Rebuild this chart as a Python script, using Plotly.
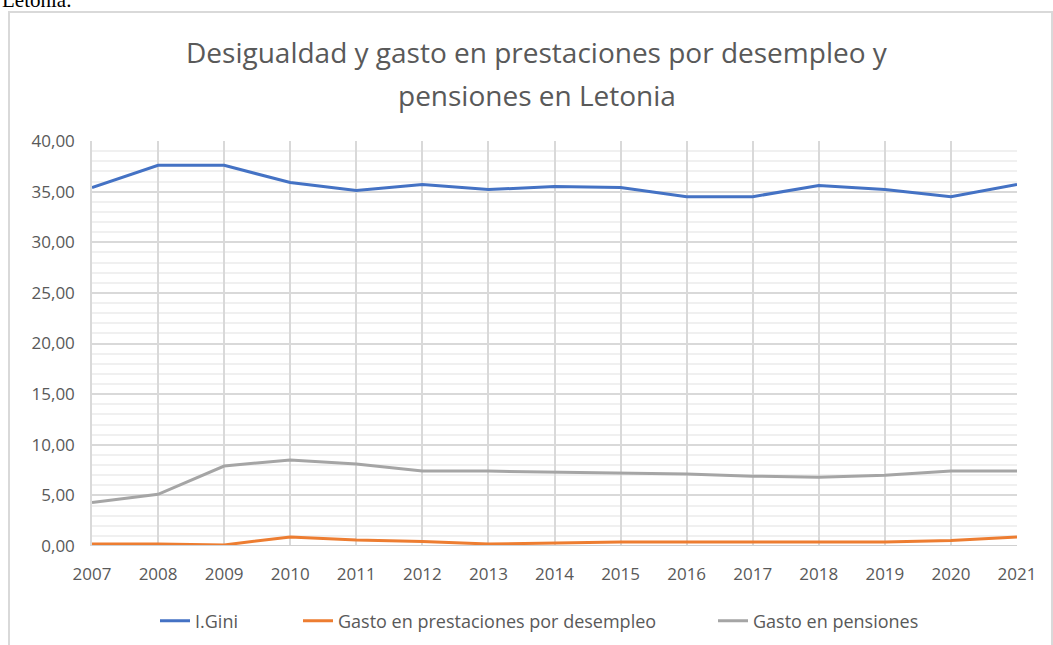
import plotly.graph_objects as go

# Series (Letonia, 2007-2021)
years = [2007, 2008, 2009, 2010, 2011, 2012, 2013, 2014, 2015, 2016, 2017, 2018, 2019, 2020, 2021]
gini = [35.4, 37.6, 37.6, 35.9, 35.1, 35.7, 35.2, 35.5, 35.4, 34.5, 34.5, 35.6, 35.2, 34.5, 35.7]
desempleo = [0.2, 0.2, 0.1, 0.9, 0.6, 0.45, 0.2, 0.3, 0.4, 0.4, 0.4, 0.4, 0.4, 0.55, 0.9]
pensiones = [4.3, 5.1, 7.9, 8.5, 8.1, 7.4, 7.4, 7.3, 7.2, 7.1, 6.9, 6.8, 7.0, 7.4, 7.4]

y_ticks = [0, 5, 10, 15, 20, 25, 30, 35, 40]
title_lines = ["Desigualdad y gasto en prestaciones por desempleo y", "pensiones en Letonia"]

W, H = 1053, 645
L, R, T, B = 92, 36, 141, 99
PW, PH = W - L - R, H - T - B


def px_x(p):
    return (p - L) / PW


def px_y(p):
    return (H - B - p) / PH


FONT = "Open Sans"
TXT = "#595959"

fig = go.Figure()
fig.add_trace(go.Scatter(x=years, y=gini, mode="lines", name="I.Gini",
                         line=dict(color="#4472C4", width=3), legend="legend"))
fig.add_trace(go.Scatter(x=years, y=desempleo, mode="lines",
                         name="Gasto en prestaciones por desempleo",
                         line=dict(color="#ED7D31", width=3), legend="legend2"))
fig.add_trace(go.Scatter(x=years, y=pensiones, mode="lines", name="Gasto en pensiones",
                         line=dict(color="#A5A5A5", width=3), legend="legend3"))

leg_common = dict(orientation="h", yanchor="middle", y=px_y(621), xanchor="left",
                  font=dict(family=FONT, size=18, color=TXT), bgcolor="rgba(0,0,0,0)",
                  itemwidth=30)

fig.update_layout(
    width=W, height=H,
    margin=dict(l=L, r=R, t=T, b=B, autoexpand=False),
    paper_bgcolor="white", plot_bgcolor="white",
    separators=",.",
    xaxis=dict(range=[2007, 2021], tickmode="array", tickvals=years,
               ticktext=[str(y) for y in years], showgrid=True, gridcolor="#d9d9d9",
               gridwidth=1.5, zeroline=False, showline=False, ticks="",
               tickfont=dict(family=FONT, size=17, color=TXT), ticklabelstandoff=16),
    yaxis=dict(range=[0, 40], tickmode="array", tickvals=y_ticks, tickformat=".2f",
               showgrid=True, gridcolor="#d9d9d9", gridwidth=1.5, zeroline=False,
               showline=True, linecolor="#d9d9d9", linewidth=1.5, mirror=False,
               ticks="", tickfont=dict(family=FONT, size=17, color=TXT),
               ticklabelstandoff=12,
               minor=dict(dtick=1, showgrid=True, gridcolor="#f0f0f0", gridwidth=1.5)),
    legend=dict(leg_common, x=px_x(155)),
    legend2=dict(leg_common, x=px_x(298)),
    legend3=dict(leg_common, x=px_x(713)),
    showlegend=True,
)

# chart title, two centred lines
for line_text, y_px in zip(title_lines, [52, 95]):
    fig.add_annotation(text=line_text, xref="paper", yref="paper", x=px_x(537), y=px_y(y_px),
                       xanchor="center", yanchor="middle", showarrow=False,
                       font=dict(family=FONT, size=28, color=TXT))

# axis line along zero
fig.add_shape(type="line", xref="paper", yref="y", x0=0, x1=1, y0=0, y1=0,
              line=dict(color="#d0d0d0", width=2), layer="above")

# chart frame
fig.add_shape(type="rect", xref="paper", yref="paper",
              x0=px_x(9), x1=px_x(1052), y0=px_y(680), y1=px_y(12),
              line=dict(color="#d9d9d9", width=2), fillcolor="rgba(0,0,0,0)")

# preceding line of document text
fig.add_annotation(text="Letonia.", xref="paper", yref="paper", x=px_x(0), y=px_y(14),
                   xanchor="left", yanchor="bottom", showarrow=False,
                   font=dict(family="Liberation Serif", size=21, color="black"))

fig.write_html("out.html")
